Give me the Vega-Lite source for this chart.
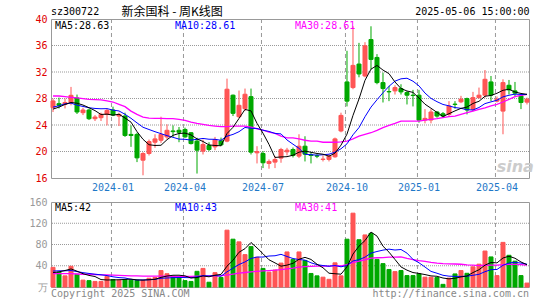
{
 "$schema": "https://vega.github.io/schema/vega-lite/v6.json",
 "background": "#ffffff",
 "padding": {"left": 28, "top": 5, "right": 5, "bottom": 3},
 "spacing": 24,
 "bounds": "flush",
 "config": {
  "view": {"stroke": "#999999", "strokeWidth": 1},
  "text": {"font": "DejaVu Sans Mono", "fontSize": 10}
 },
 "data": {"values": [
{"d":"2023-10-27","o":26.62,"h":27.98,"l":25.96,"c":27.63,"m5":26.4,"m10":26.7,"m30":28.38,"v":37,"v5":27,"v10":30,"v30":25},
{"d":"2023-11-03","o":27.22,"h":28.13,"l":26.5,"c":26.97,"m5":26.7,"m10":26.9,"m30":28.38,"v":28,"v5":28.5,"v10":30.5,"v30":25},
{"d":"2023-11-10","o":27.1,"h":28.0,"l":26.5,"c":27.4,"m5":27.1,"m10":27.2,"m30":28.28,"v":21,"v5":31,"v10":30.5,"v30":25},
{"d":"2023-11-17","o":27.37,"h":29.75,"l":26.97,"c":28.48,"m5":27.4,"m10":27.3,"m30":28.18,"v":39,"v5":34,"v10":31,"v30":25},
{"d":"2023-11-24","o":28.08,"h":28.59,"l":25.66,"c":25.96,"m5":27.29,"m10":27.0,"m30":28.08,"v":24,"v5":29.8,"v10":29,"v30":24.5},
{"d":"2023-12-01","o":25.86,"h":26.6,"l":25.5,"c":26.26,"m5":27.01,"m10":26.8,"m30":27.98,"v":13,"v5":25,"v10":27,"v30":24},
{"d":"2023-12-08","o":26.26,"h":26.46,"l":24.75,"c":24.95,"m5":26.61,"m10":26.6,"m30":27.88,"v":12,"v5":21.8,"v10":25.5,"v30":24},
{"d":"2023-12-15","o":24.95,"h":25.5,"l":24.6,"c":25.2,"m5":26.17,"m10":26.5,"m30":27.83,"v":10.5,"v5":19.7,"v10":24,"v30":23.5},
{"d":"2023-12-22","o":25.1,"h":25.86,"l":24.6,"c":25.6,"m5":25.59,"m10":26.45,"m30":27.78,"v":10.5,"v5":14,"v10":23,"v30":23},
{"d":"2023-12-29","o":25.6,"h":26.46,"l":23.94,"c":26.2,"m5":25.64,"m10":26.47,"m30":27.63,"v":20,"v5":13.2,"v10":21.5,"v30":23},
{"d":"2024-01-05","o":26.26,"h":26.77,"l":25.35,"c":25.5,"m5":25.49,"m10":26.25,"m30":27.47,"v":14,"v5":13.4,"v10":19.2,"v30":22.5},
{"d":"2024-01-12","o":25.35,"h":25.86,"l":23.84,"c":25.6,"m5":25.62,"m10":26.12,"m30":27.12,"v":13,"v5":13.6,"v10":17.7,"v30":22},
{"d":"2024-01-19","o":25.35,"h":25.86,"l":22.2,"c":22.42,"m5":25.06,"m10":25.62,"m30":26.77,"v":14,"v5":14.3,"v10":17,"v30":21.5},
{"d":"2024-01-26","o":22.58,"h":23.94,"l":20.7,"c":22.42,"m5":24.43,"m10":25.01,"m30":26.1,"v":13,"v5":14.8,"v10":14.4,"v30":21},
{"d":"2024-02-02","o":22.58,"h":22.83,"l":18.4,"c":19.04,"m5":23.0,"m10":24.32,"m30":25.6,"v":12.5,"v5":13.3,"v10":13.25,"v30":21},
{"d":"2024-02-08","o":18.69,"h":19.9,"l":16.41,"c":19.7,"m5":21.84,"m10":23.66,"m30":25.2,"v":12.5,"v5":13,"v10":13.2,"v30":20.5},
{"d":"2024-02-23","o":19.7,"h":21.8,"l":19.4,"c":21.5,"m5":21.02,"m10":23.32,"m30":25.05,"v":16.5,"v5":13.7,"v10":13.65,"v30":20.5},
{"d":"2024-03-01","o":21.4,"h":22.6,"l":20.56,"c":21.9,"m5":20.91,"m10":22.99,"m30":25.0,"v":18,"v5":14.5,"v10":14.4,"v30":20.5},
{"d":"2024-03-08","o":21.7,"h":25.25,"l":21.3,"c":22.58,"m5":20.94,"m10":22.69,"m30":25.0,"v":31,"v5":18.1,"v10":16.45,"v30":20.5},
{"d":"2024-03-15","o":22.2,"h":24.1,"l":21.9,"c":23.2,"m5":21.78,"m10":22.39,"m30":24.95,"v":25,"v5":20.6,"v10":16.95,"v30":20.5},
{"d":"2024-03-22","o":23.1,"h":23.94,"l":22.2,"c":23.0,"m5":22.44,"m10":22.14,"m30":24.95,"v":20,"v5":22.1,"v10":17.55,"v30":20},
{"d":"2024-03-29","o":23.2,"h":23.7,"l":21.4,"c":22.9,"m5":22.72,"m10":21.87,"m30":24.85,"v":17,"v5":22.2,"v10":17.95,"v30":20},
{"d":"2024-04-03","o":23.33,"h":23.6,"l":22.07,"c":22.2,"m5":22.78,"m10":21.84,"m30":24.7,"v":12,"v5":21,"v10":17.75,"v30":20},
{"d":"2024-04-12","o":22.83,"h":22.93,"l":21.06,"c":21.2,"m5":22.5,"m10":21.72,"m30":24.44,"v":10.5,"v5":16.9,"v10":17.5,"v30":20},
{"d":"2024-04-19","o":21.57,"h":22.07,"l":16.67,"c":20.2,"m5":21.9,"m10":21.84,"m30":24.24,"v":29.5,"v5":17.8,"v10":19.2,"v30":20.5},
{"d":"2024-04-26","o":20.05,"h":21.8,"l":19.55,"c":21.06,"m5":21.51,"m10":21.97,"m30":24.1,"v":35,"v5":20.8,"v10":21.45,"v30":20.5},
{"d":"2024-04-30","o":20.9,"h":21.4,"l":20.05,"c":20.3,"m5":20.99,"m10":21.85,"m30":23.94,"v":9,"v5":19.2,"v10":20.7,"v30":21},
{"d":"2024-05-10","o":20.7,"h":22.2,"l":20.2,"c":21.8,"m5":20.91,"m10":21.84,"m30":23.84,"v":27,"v5":22.2,"v10":21.6,"v30":21},
{"d":"2024-05-17","o":21.6,"h":22.1,"l":20.8,"c":21.0,"m5":20.87,"m10":21.69,"m30":23.74,"v":18,"v5":23.7,"v10":20.3,"v30":21.5},
{"d":"2024-05-24","o":21.57,"h":31.0,"l":21.4,"c":29.4,"m5":22.71,"m10":22.31,"m30":23.74,"v":107,"v5":39.2,"v10":28.5,"v30":22.3},
{"d":"2024-05-31","o":28.5,"h":28.6,"l":25.35,"c":25.76,"m5":23.65,"m10":22.58,"m30":23.84,"v":90,"v5":50.2,"v10":35.5,"v30":24.1},
{"d":"2024-06-07","o":25.25,"h":29.2,"l":25.05,"c":26.97,"m5":24.99,"m10":22.99,"m30":23.84,"v":85,"v5":65.4,"v10":42.3,"v30":26},
{"d":"2024-06-14","o":26.46,"h":29.5,"l":26.1,"c":28.64,"m5":26.35,"m10":23.63,"m30":23.84,"v":61,"v5":72.2,"v10":47.2,"v30":27.3},
{"d":"2024-06-21","o":28.28,"h":29.5,"l":19.55,"c":19.9,"m5":26.13,"m10":23.5,"m30":23.69,"v":76,"v5":83.8,"v10":53.75,"v30":28.6},
{"d":"2024-06-28","o":19.8,"h":20.8,"l":18.2,"c":20.0,"m5":24.25,"m10":23.48,"m30":23.43,"v":56,"v5":73.6,"v10":56.4,"v30":29.6},
{"d":"2024-07-05","o":19.7,"h":20.05,"l":17.5,"c":18.3,"m5":22.76,"m10":23.21,"m30":23.23,"v":35,"v5":62.6,"v10":56.4,"v30":30.35},
{"d":"2024-07-12","o":18.2,"h":18.8,"l":17.4,"c":18.5,"m5":21.07,"m10":23.03,"m30":22.93,"v":28,"v5":51.2,"v10":58.3,"v30":30.9},
{"d":"2024-07-19","o":18.4,"h":19.3,"l":17.5,"c":18.8,"m5":19.1,"m10":22.73,"m30":22.73,"v":32,"v5":45.4,"v10":58.8,"v30":31.6},
{"d":"2024-07-26","o":19.0,"h":20.55,"l":18.3,"c":20.3,"m5":19.18,"m10":22.66,"m30":22.32,"v":45,"v5":39.2,"v10":61.5,"v30":32.75},
{"d":"2024-08-02","o":19.95,"h":20.55,"l":19.4,"c":20.2,"m5":19.22,"m10":21.74,"m30":22.07,"v":66,"v5":41.2,"v10":57.4,"v30":34.3},
{"d":"2024-08-09","o":20.3,"h":20.6,"l":19.1,"c":19.4,"m5":19.44,"m10":21.1,"m30":22.07,"v":52,"v5":44.6,"v10":53.6,"v30":35.55},
{"d":"2024-08-16","o":19.3,"h":22.6,"l":19.0,"c":20.8,"m5":19.9,"m10":20.48,"m30":21.9,"v":66,"v5":52.2,"v10":51.7,"v30":37.3},
{"d":"2024-08-23","o":20.8,"h":22.3,"l":18.5,"c":19.6,"m5":20.06,"m10":19.58,"m30":21.7,"v":50,"v5":55.8,"v10":50.6,"v30":38.5},
{"d":"2024-08-30","o":19.5,"h":19.9,"l":18.2,"c":19.4,"m5":19.88,"m10":19.52,"m30":21.57,"v":25.5,"v5":51.9,"v10":45.55,"v30":38.9},
{"d":"2024-09-06","o":19.35,"h":19.6,"l":19.0,"c":19.3,"m5":19.7,"m10":19.45,"m30":21.57,"v":21,"v5":42.9,"v10":42.05,"v30":39.2},
{"d":"2024-09-13","o":18.8,"h":19.4,"l":18.5,"c":18.85,"m5":19.59,"m10":19.51,"m30":21.4,"v":18.5,"v5":36.2,"v10":40.4,"v30":39.4},
{"d":"2024-09-20","o":18.8,"h":19.55,"l":18.5,"c":19.3,"m5":19.29,"m10":19.59,"m30":21.4,"v":14.5,"v5":25.9,"v10":39.05,"v30":39.35},
{"d":"2024-09-27","o":19.2,"h":22.1,"l":19.05,"c":21.9,"m5":19.75,"m10":19.9,"m30":21.4,"v":45.5,"v5":25,"v10":40.4,"v30":40.3},
{"d":"2024-09-30","o":23.1,"h":25.86,"l":22.9,"c":25.45,"m5":20.96,"m10":20.41,"m30":21.46,"v":21,"v5":24.1,"v10":38,"v30":39.9},
{"d":"2024-10-11","o":30.5,"h":35.2,"l":26.8,"c":27.6,"m5":22.62,"m10":21.16,"m30":21.57,"v":90,"v5":37.9,"v10":40.4,"v30":42.1},
{"d":"2024-10-18","o":29.65,"h":38.9,"l":29.4,"c":33.0,"m5":25.45,"m10":22.52,"m30":21.9,"v":139,"v5":62,"v10":49.1,"v30":46.1},
{"d":"2024-10-25","o":33.2,"h":36.4,"l":31.2,"c":31.7,"m5":27.93,"m10":23.61,"m30":22.32,"v":89,"v5":76.9,"v10":51.4,"v30":48.5},
{"d":"2024-11-01","o":31.4,"h":36.5,"l":31.2,"c":35.96,"m5":30.74,"m10":25.25,"m30":22.58,"v":98,"v5":87.4,"v10":56.2,"v30":51.3},
{"d":"2024-11-08","o":36.9,"h":38.9,"l":32.4,"c":33.9,"m5":32.43,"m10":26.7,"m30":22.83,"v":101,"v5":103.4,"v10":63.75,"v30":54.35},
{"d":"2024-11-15","o":34.2,"h":34.7,"l":30.15,"c":30.4,"m5":32.99,"m10":27.81,"m30":23.18,"v":52,"v5":95.8,"v10":66.85,"v30":55.1},
{"d":"2024-11-22","o":30.4,"h":31.9,"l":27.4,"c":29.5,"m5":32.29,"m10":28.87,"m30":23.6,"v":44,"v5":76.8,"v10":69.4,"v30":55.4},
{"d":"2024-11-29","o":29.05,"h":29.9,"l":27.6,"c":29.0,"m5":31.75,"m10":29.84,"m30":23.94,"v":33,"v5":65.6,"v10":71.25,"v30":56.2},
{"d":"2024-12-06","o":29.15,"h":30.0,"l":28.6,"c":29.65,"m5":30.49,"m10":30.62,"m30":24.24,"v":29,"v5":51.8,"v10":69.6,"v30":56.3},
{"d":"2024-12-13","o":29.5,"h":30.15,"l":28.6,"c":29.0,"m5":29.51,"m10":30.97,"m30":24.6,"v":31,"v5":37.8,"v10":70.6,"v30":56.7},
{"d":"2024-12-20","o":28.9,"h":29.1,"l":27.1,"c":28.5,"m5":29.13,"m10":31.06,"m30":24.6,"v":21.5,"v5":31.7,"v10":63.75,"v30":53.85},
{"d":"2024-12-27","o":28.5,"h":29.3,"l":26.8,"c":28.45,"m5":28.92,"m10":30.61,"m30":24.6,"v":21.5,"v5":27.2,"v10":52,"v30":51.6},
{"d":"2025-01-03","o":28.5,"h":29.3,"l":24.35,"c":24.75,"m5":28.07,"m10":29.91,"m30":24.6,"v":24.6,"v5":25.5,"v10":45.56,"v30":49.55},
{"d":"2025-01-10","o":24.75,"h":26.4,"l":24.25,"c":25.0,"m5":27.14,"m10":28.82,"m30":24.75,"v":18.5,"v5":23.4,"v10":37.6,"v30":48.1},
{"d":"2025-01-17","o":24.75,"h":26.4,"l":24.25,"c":25.96,"m5":26.53,"m10":28.02,"m30":24.85,"v":18.5,"v5":20.9,"v10":29.36,"v30":46.2},
{"d":"2025-01-24","o":25.96,"h":26.1,"l":25.1,"c":25.35,"m5":25.9,"m10":27.52,"m30":24.95,"v":17.8,"v5":20.2,"v10":25.94,"v30":44.9},
{"d":"2025-01-27","o":25.7,"h":25.96,"l":25.1,"c":25.35,"m5":25.28,"m10":27.1,"m30":25.1,"v":5,"v5":16.9,"v10":22.04,"v30":43.9},
{"d":"2025-02-07","o":25.6,"h":27.6,"l":25.25,"c":26.87,"m5":25.71,"m10":26.89,"m30":25.25,"v":16.6,"v5":15.3,"v10":20.4,"v30":43.6},
{"d":"2025-02-14","o":27.15,"h":27.6,"l":26.46,"c":27.1,"m5":26.13,"m10":26.63,"m30":25.35,"v":24.6,"v5":16.5,"v10":19.96,"v30":43.3},
{"d":"2025-02-21","o":27.5,"h":28.4,"l":27.3,"c":27.9,"m5":26.51,"m10":26.52,"m30":25.6,"v":31,"v5":19,"v10":19.96,"v30":42.85},
{"d":"2025-02-28","o":27.98,"h":28.13,"l":25.6,"c":26.26,"m5":26.7,"m10":26.3,"m30":25.86,"v":25.8,"v5":20.6,"v10":20.39,"v30":41.5},
{"d":"2025-03-07","o":26.36,"h":29.0,"l":26.1,"c":28.13,"m5":27.25,"m10":26.27,"m30":26.1,"v":38,"v5":27.2,"v10":22.04,"v30":41.05},
{"d":"2025-03-14","o":28.13,"h":29.65,"l":27.98,"c":28.5,"m5":27.58,"m10":26.64,"m30":26.36,"v":43,"v5":32.5,"v10":23.88,"v30":40.3},
{"d":"2025-03-21","o":28.5,"h":32.3,"l":28.13,"c":30.9,"m5":28.34,"m10":27.23,"m30":26.6,"v":67.7,"v5":41.1,"v10":28.8,"v30":40.9},
{"d":"2025-03-28","o":30.5,"h":31.4,"l":27.6,"c":28.5,"m5":28.46,"m10":27.49,"m30":26.87,"v":56.6,"v5":46.2,"v10":32.61,"v30":41},
{"d":"2025-04-03","o":27.6,"h":28.3,"l":27.4,"c":27.9,"m5":28.79,"m10":27.74,"m30":27.12,"v":21.5,"v5":45.4,"v10":32.98,"v30":41},
{"d":"2025-04-11","o":26.1,"h":30.9,"l":22.6,"c":30.4,"m5":29.24,"m10":28.25,"m30":27.47,"v":84,"v5":54.6,"v10":40.88,"v30":42},
{"d":"2025-04-18","o":30.0,"h":30.8,"l":28.6,"c":29.3,"m5":29.4,"m10":28.49,"m30":27.88,"v":59.7,"v5":57.9,"v10":45.19,"v30":42.5},
{"d":"2025-04-25","o":29.15,"h":30.5,"l":28.3,"c":28.8,"m5":28.98,"m10":28.66,"m30":28.28,"v":48.6,"v5":54.1,"v10":46.5,"v30":42.5},
{"d":"2025-04-30","o":28.4,"h":28.6,"l":26.4,"c":27.4,"m5":28.76,"m10":28.61,"m30":28.48,"v":21.5,"v5":47.1,"v10":45,"v30":42},
{"d":"2025-05-06","o":27.45,"h":28.13,"l":27.1,"c":27.9,"m5":28.63,"m10":28.61,"m30":28.61,"v":7.4,"v5":42,"v10":43,"v30":41}
 ]},
 "vconcat": [
  {
   "width": 478, "height": 159,
   "resolve": {"scale": {"x": "independent", "y": "independent"}, "axis": {"x": "independent", "y": "independent"}},
   "layer": [
    {
     "data": {"values": [{}]},
     "layer": [
      {"mark": {"type": "rule", "color": "#999999", "strokeWidth": 1, "strokeDash": [1, 1]},
       "encoding": {"y": {"datum": 20, "type": "quantitative", "scale": {"domain": [16, 40], "nice": false, "zero": false},
                          "axis": {"title": null, "orient": "left", "values": [20, 28, 36], "labelColor": "#e00000", "labelPadding": 4, "labelFont": "DejaVu Sans Mono", "labelFontSize": 10, "domain": false, "ticks": false, "grid": false}}}},
      {"mark": {"type": "rule", "color": "#999999", "strokeWidth": 1, "strokeDash": [1, 1]},
       "encoding": {"y": {"datum": 24, "type": "quantitative",
                          "axis": {"title": null, "orient": "left", "values": [20, 28, 36], "labelColor": "#e00000", "labelPadding": 4, "labelFont": "DejaVu Sans Mono", "labelFontSize": 10, "domain": false, "ticks": false, "grid": false}}}},
      {"mark": {"type": "rule", "color": "#999999", "strokeWidth": 1, "strokeDash": [1, 1]},
       "encoding": {"y": {"datum": 28, "type": "quantitative",
                          "axis": {"title": null, "orient": "left", "values": [20, 28, 36], "labelColor": "#e00000", "labelPadding": 4, "labelFont": "DejaVu Sans Mono", "labelFontSize": 10, "domain": false, "ticks": false, "grid": false}}}},
      {"mark": {"type": "rule", "color": "#999999", "strokeWidth": 1, "strokeDash": [1, 1]},
       "encoding": {"y": {"datum": 32, "type": "quantitative",
                          "axis": {"title": null, "orient": "left", "values": [20, 28, 36], "labelColor": "#e00000", "labelPadding": 4, "labelFont": "DejaVu Sans Mono", "labelFontSize": 10, "domain": false, "ticks": false, "grid": false}}}},
      {"mark": {"type": "rule", "color": "#999999", "strokeWidth": 1, "strokeDash": [1, 1]},
       "encoding": {"y": {"datum": 36, "type": "quantitative",
                          "axis": {"title": null, "orient": "left", "values": [20, 28, 36], "labelColor": "#e00000", "labelPadding": 4, "labelFont": "DejaVu Sans Mono", "labelFontSize": 10, "domain": false, "ticks": false, "grid": false}}}},
      {"mark": {"type": "rule", "color": "#999999", "strokeWidth": 1, "strokeDash": [4, 3]},
       "encoding": {"x": {"datum": 10.08, "type": "quantitative", "scale": {"domain": [0, 79.67], "nice": false, "zero": false}, "axis": null}}},
      {"mark": {"type": "rule", "color": "#999999", "strokeWidth": 1, "strokeDash": [4, 3]},
       "encoding": {"x": {"datum": 22.08, "type": "quantitative", "axis": null}}},
      {"mark": {"type": "rule", "color": "#999999", "strokeWidth": 1, "strokeDash": [4, 3]},
       "encoding": {"x": {"datum": 35.08, "type": "quantitative", "axis": null}}},
      {"mark": {"type": "rule", "color": "#999999", "strokeWidth": 1, "strokeDash": [4, 3]},
       "encoding": {"x": {"datum": 49.08, "type": "quantitative", "axis": null}}},
      {"mark": {"type": "rule", "color": "#999999", "strokeWidth": 1, "strokeDash": [4, 3]},
       "encoding": {"x": {"datum": 61.08, "type": "quantitative", "axis": null}}},
      {"mark": {"type": "rule", "color": "#999999", "strokeWidth": 1, "strokeDash": [4, 3]},
       "encoding": {"x": {"datum": 74.08, "type": "quantitative", "axis": null}}}
     ]
    },
    {
     "encoding": {
      "x": {"field": "d", "type": "ordinal", "title": null, "scale": {"paddingInner": 0.33, "paddingOuter": 0},
            "axis": {"title": null, "values": ["2024-01-05","2024-04-03","2024-07-05","2024-10-11","2025-01-03","2025-04-03"],
                     "labelExpr": "slice(datum.value, 0, 7)", "labelAngle": 0, "labelColor": "#1e78c8", "labelPadding": 4,
                     "labelFont": "DejaVu Sans Mono", "labelFontSize": 10, "domain": false, "ticks": false, "grid": false, "bandPosition": 0}}
     },
     "layer": [
      {"mark": {"type": "rule", "strokeWidth": 1},
       "encoding": {
        "y": {"field": "l", "type": "quantitative", "title": null, "scale": {"domain": [16, 40], "nice": false, "zero": false},
              "axis": {"title": null, "orient": "left", "values": [16, 24, 32, 40], "labelColor": "#e00000", "labelPadding": 4,
                       "labelFont": "DejaVu Sans Mono", "labelFontSize": 10, "domain": false, "ticks": false, "grid": false}},
        "y2": {"field": "h"},
        "color": {"condition": {"test": "datum.c >= datum.o", "value": "#ff5555"}, "value": "#00a800"}
       }},
      {"mark": {"type": "bar", "strokeWidth": 1},
       "encoding": {
        "y": {"field": "o", "type": "quantitative"},
        "y2": {"field": "c"},
        "fill": {"condition": {"test": "datum.c >= datum.o", "value": "#ff5555"}, "value": "#00a800"},
        "stroke": {"condition": {"test": "datum.c >= datum.o", "value": "#ff5555"}, "value": "#00a800"}
       }},
      {"mark": {"type": "line", "color": "#ff00ff", "strokeWidth": 1.3},
       "encoding": {"y": {"field": "m30", "type": "quantitative"}}},
      {"mark": {"type": "line", "color": "#0000ff", "strokeWidth": 1},
       "encoding": {"y": {"field": "m10", "type": "quantitative"}}},
      {"mark": {"type": "line", "color": "#000000", "strokeWidth": 1},
       "encoding": {"y": {"field": "m5", "type": "quantitative"}}}
     ]
    },
    {
     "data": {"values": [{}]},
     "layer": [
      {"mark": {"type": "text", "text": "sz300722", "align": "left", "baseline": "middle", "color": "#000000"},
       "encoding": {"x": {"datum": 0, "type": "quantitative", "scale": {"domain": [0, 80], "nice": false, "zero": false}, "axis": null},
                    "y": {"datum": 41.06, "type": "quantitative", "scale": {"domain": [16, 40], "nice": false, "zero": false}, "axis": null}}},
      {"mark": {"type": "text", "text": "新余国科   -   周K线图", "align": "left", "baseline": "middle", "color": "#000000", "font": "Noto Sans CJK SC", "fontSize": 12},
       "encoding": {"x": {"datum": 11.8, "type": "quantitative", "axis": null},
                    "y": {"datum": 41.06, "type": "quantitative", "axis": null}}},
      {"mark": {"type": "text", "text": "2025-05-06 15:00:00", "align": "right", "baseline": "middle", "color": "#000000"},
       "encoding": {"x": {"datum": 80.1, "type": "quantitative", "axis": null},
                    "y": {"datum": 41.06, "type": "quantitative", "axis": null}}},
      {"mark": {"type": "text", "text": "MA5:28.63", "align": "left", "baseline": "middle", "color": "#000000"},
       "encoding": {"x": {"datum": 0.67, "type": "quantitative", "axis": null},
                    "y": {"datum": 39.0, "type": "quantitative", "axis": null}}},
      {"mark": {"type": "text", "text": "MA10:28.61", "align": "left", "baseline": "middle", "color": "#0000ff"},
       "encoding": {"x": {"datum": 20.75, "type": "quantitative", "axis": null},
                    "y": {"datum": 39.0, "type": "quantitative", "axis": null}}},
      {"mark": {"type": "text", "text": "MA30:28.61", "align": "left", "baseline": "middle", "color": "#ff00ff"},
       "encoding": {"x": {"datum": 40.84, "type": "quantitative", "axis": null},
                    "y": {"datum": 39.0, "type": "quantitative", "axis": null}}},
      {"mark": {"type": "text", "text": "sina", "align": "center", "baseline": "middle", "color": "#cccccc", "font": "DejaVu Sans", "fontSize": 16, "fontStyle": "italic", "fontWeight": "bold"},
       "encoding": {"x": {"datum": 77.7, "type": "quantitative", "axis": null},
                    "y": {"datum": 17.6, "type": "quantitative", "axis": null}}}
     ]
    }
   ]
  },
  {
   "width": 478, "height": 85,
   "resolve": {"scale": {"x": "independent", "y": "independent"}, "axis": {"x": "independent", "y": "independent"}},
   "layer": [
    {
     "data": {"values": [{}]},
     "layer": [
      {"mark": {"type": "rule", "color": "#999999", "strokeWidth": 1, "strokeDash": [1, 1]},
       "encoding": {"y": {"datum": 40, "type": "quantitative", "scale": {"domain": [0, 160], "nice": false, "zero": false},
                          "axis": {"title": null, "orient": "left", "values": [40, 120], "labelColor": "#999999", "labelPadding": 4, "labelFont": "DejaVu Sans Mono", "labelFontSize": 10, "domain": false, "ticks": false, "grid": false}}}},
      {"mark": {"type": "rule", "color": "#999999", "strokeWidth": 1, "strokeDash": [1, 1]},
       "encoding": {"y": {"datum": 80, "type": "quantitative",
                          "axis": {"title": null, "orient": "left", "values": [40, 120], "labelColor": "#999999", "labelPadding": 4, "labelFont": "DejaVu Sans Mono", "labelFontSize": 10, "domain": false, "ticks": false, "grid": false}}}},
      {"mark": {"type": "rule", "color": "#999999", "strokeWidth": 1, "strokeDash": [1, 1]},
       "encoding": {"y": {"datum": 120, "type": "quantitative",
                          "axis": {"title": null, "orient": "left", "values": [40, 120], "labelColor": "#999999", "labelPadding": 4, "labelFont": "DejaVu Sans Mono", "labelFontSize": 10, "domain": false, "ticks": false, "grid": false}}}},
      {"mark": {"type": "rule", "color": "#999999", "strokeWidth": 1, "strokeDash": [4, 3]},
       "encoding": {"x": {"datum": 10.08, "type": "quantitative", "scale": {"domain": [0, 79.67], "nice": false, "zero": false}, "axis": null}}},
      {"mark": {"type": "rule", "color": "#999999", "strokeWidth": 1, "strokeDash": [4, 3]},
       "encoding": {"x": {"datum": 22.08, "type": "quantitative", "axis": null}}},
      {"mark": {"type": "rule", "color": "#999999", "strokeWidth": 1, "strokeDash": [4, 3]},
       "encoding": {"x": {"datum": 35.08, "type": "quantitative", "axis": null}}},
      {"mark": {"type": "rule", "color": "#999999", "strokeWidth": 1, "strokeDash": [4, 3]},
       "encoding": {"x": {"datum": 49.08, "type": "quantitative", "axis": null}}},
      {"mark": {"type": "rule", "color": "#999999", "strokeWidth": 1, "strokeDash": [4, 3]},
       "encoding": {"x": {"datum": 61.08, "type": "quantitative", "axis": null}}},
      {"mark": {"type": "rule", "color": "#999999", "strokeWidth": 1, "strokeDash": [4, 3]},
       "encoding": {"x": {"datum": 74.08, "type": "quantitative", "axis": null}}}
     ]
    },
    {
     "encoding": {
      "x": {"field": "d", "type": "ordinal", "title": null, "scale": {"paddingInner": 0.33, "paddingOuter": 0},
            "axis": {"title": null, "values": ["2024-01-05"], "labels": false, "domain": false, "ticks": false, "grid": false}}
     },
     "layer": [
      {"mark": {"type": "bar", "strokeWidth": 1},
       "encoding": {
        "y": {"field": "v", "type": "quantitative", "title": null, "scale": {"domain": [0, 160], "nice": false},
              "axis": {"title": null, "orient": "left", "values": [0, 80, 160], "labelExpr": "datum.value == 0 ? '万' : datum.label",
                       "labelFont": "DejaVu Sans Mono", "labelFontSize": 10, "domain": false, "ticks": false,
                       "labelColor": "#999999", "labelPadding": 4, "grid": false}},
        "fill": {"condition": {"test": "datum.c >= datum.o", "value": "#ff5555"}, "value": "#00a800"},
        "stroke": {"condition": {"test": "datum.c >= datum.o", "value": "#ff5555"}, "value": "#00a800"}
       }},
      {"mark": {"type": "line", "color": "#ff00ff", "strokeWidth": 1.3},
       "encoding": {"y": {"field": "v30", "type": "quantitative"}}},
      {"mark": {"type": "line", "color": "#0000ff", "strokeWidth": 1},
       "encoding": {"y": {"field": "v10", "type": "quantitative"}}},
      {"mark": {"type": "line", "color": "#000000", "strokeWidth": 1},
       "encoding": {"y": {"field": "v5", "type": "quantitative"}}}
     ]
    },
    {
     "data": {"values": [{}]},
     "layer": [
      {"mark": {"type": "text", "text": "MA5:42", "align": "left", "baseline": "middle", "color": "#000000"},
       "encoding": {"x": {"datum": 0.67, "type": "quantitative", "scale": {"domain": [0, 80], "nice": false, "zero": false}, "axis": null},
                    "y": {"datum": 148, "type": "quantitative", "scale": {"domain": [0, 160], "nice": false, "zero": false}, "axis": null}}},
      {"mark": {"type": "text", "text": "MA10:43", "align": "left", "baseline": "middle", "color": "#0000ff"},
       "encoding": {"x": {"datum": 20.75, "type": "quantitative", "axis": null},
                    "y": {"datum": 148, "type": "quantitative", "axis": null}}},
      {"mark": {"type": "text", "text": "MA30:41", "align": "left", "baseline": "middle", "color": "#ff00ff"},
       "encoding": {"x": {"datum": 40.84, "type": "quantitative", "axis": null},
                    "y": {"datum": 148, "type": "quantitative", "axis": null}}},
      {"mark": {"type": "text", "text": "Copyright 2025 SINA.COM", "align": "left", "baseline": "middle", "color": "#888888"},
       "encoding": {"x": {"datum": 0, "type": "quantitative", "axis": null},
                    "y": {"datum": -14, "type": "quantitative", "axis": null}}},
      {"mark": {"type": "text", "text": "http://finance.sina.com.cn", "align": "right", "baseline": "middle", "color": "#888888"},
       "encoding": {"x": {"datum": 80, "type": "quantitative", "axis": null},
                    "y": {"datum": -14, "type": "quantitative", "axis": null}}}
     ]
    }
   ]
  }
 ]
}
